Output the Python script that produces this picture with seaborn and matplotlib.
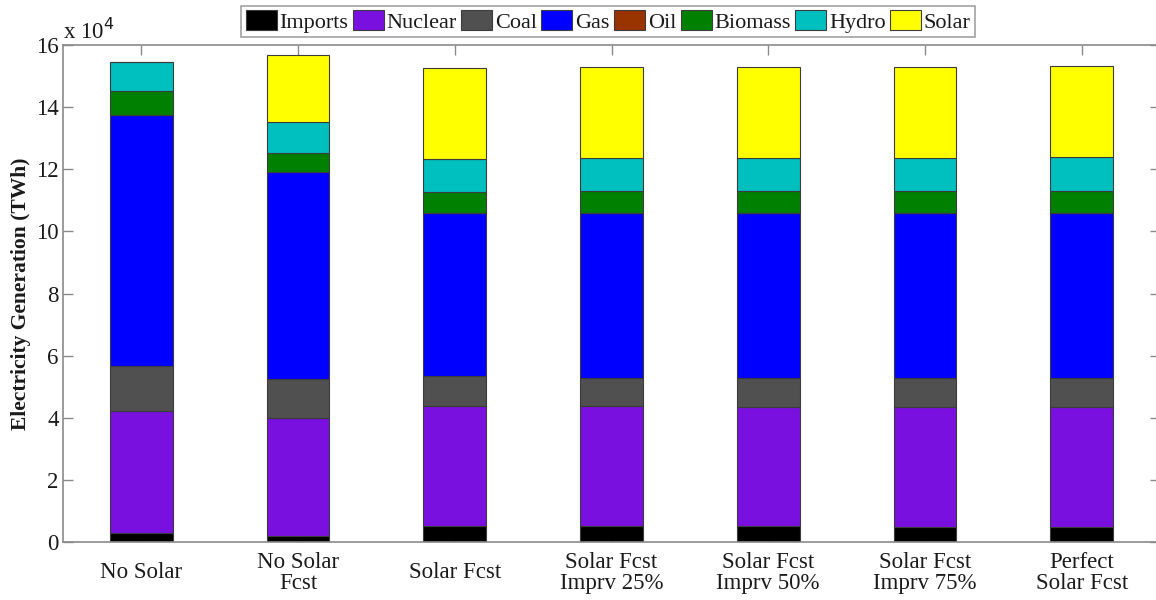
import matplotlib
matplotlib.use("Agg")
import matplotlib.pyplot as plt
from matplotlib.patches import Patch
from matplotlib.ticker import FuncFormatter, MultipleLocator
import numpy as np
import seaborn as sns

# Scenario names (x categories)
scenarios = ["No Solar", "No Solar\nFcst", "Solar Fcst", "Solar Fcst\nImprv 25%",
             "Solar Fcst\nImprv 50%", "Solar Fcst\nImprv 75%", "Perfect\nSolar Fcst"]

# Generation by source for each scenario (TWh)
imports = [2900, 1900, 5200, 5200, 5100, 4800, 4800]
nuclear = [39300, 38100, 38600, 38600, 38400, 38700, 38700]
coal = [14500, 12500, 9600, 9000, 9300, 9300, 9300]
gas = [80800, 66600, 52500, 53100, 53100, 53200, 53200]
oil = [0, 0, 0, 0, 0, 0, 0]
biomass = [7700, 6100, 6800, 7100, 7100, 7000, 7000]
hydro = [9300, 10000, 10600, 10600, 10600, 10600, 11000]
solar = [0, 21600, 29300, 29300, 29300, 29300, 29200]

sources = ["Imports", "Nuclear", "Coal", "Gas", "Oil", "Biomass", "Hydro", "Solar"]
series = [imports, nuclear, coal, gas, oil, biomass, hydro, solar]
colors = ["#000000", "#7a10e0", "#505050", "#0000ff", "#993300", "#008000", "#00bfbf", "#ffff00"]

sns.set_style("white")
plt.rcParams["font.family"] = ["Liberation Serif", "DejaVu Serif"]

fig = plt.figure(figsize=(11.56, 6.0), dpi=100)
ax = fig.add_axes([63 / 1156, 58 / 600, 1097 / 1156, 497 / 600])

bottom = np.zeros(len(scenarios))
for name, vals, col in zip(sources, series, colors):
    sns.barplot(x=scenarios, y=vals, bottom=bottom, color=col, width=0.4,
                edgecolor="#3c3c3c", linewidth=0.8, errorbar=None,
                saturation=1, ax=ax)
    bottom = bottom + np.asarray(vals, dtype=float)

ax.set_xlim(-0.5, 6.5)
ax.set_ylim(0, 160000)
ax.yaxis.set_major_locator(MultipleLocator(20000))
ax.yaxis.set_major_formatter(FuncFormatter(lambda v, p: f"{v / 1e4:g}"))

axis_gray = "#8a8a8a"
for sp in ax.spines.values():
    sp.set_visible(True)
    sp.set_color(axis_gray)
    sp.set_linewidth(1.2)

ax.tick_params(axis="both", which="major", direction="in", length=7.5, width=1,
               color=axis_gray, labelcolor="#1a1a1a", labelsize=16.5,
               top=True, right=True, bottom=True, left=True)
ax.tick_params(axis="y", pad=3)
ax.tick_params(axis="x", pad=22)
ax.set_xticks(range(len(scenarios)))
ax.set_xticklabels(scenarios, linespacing=1.0)
for lbl in ax.get_xticklabels():
    lbl.set_verticalalignment("center")

ax.set_xlabel("")
ax.set_ylabel("Electricity Generation (TWh)", fontsize=15.5, fontweight="bold",
              color="#1a1a1a", labelpad=4)

ax.text(0.0, 1.003, r"x 10$^4$", transform=ax.transAxes, fontsize=16.5,
        color="#1a1a1a", ha="left", va="bottom")

handles = [Patch(facecolor=c, edgecolor="#3c3c3c", linewidth=0.8) for c in colors]
leg = fig.legend(handles, sources, loc="center", bbox_to_anchor=(0.526, 0.964),
                 ncol=8, fontsize=16, frameon=True, fancybox=False,
                 handlelength=1.4, handleheight=0.95, handletextpad=0.12,
                 columnspacing=0.2, borderpad=0.2, borderaxespad=0)
leg.get_frame().set_edgecolor("#8a8a8a")
leg.get_frame().set_linewidth(1.2)
for t in leg.get_texts():
    t.set_color("#1a1a1a")

fig.savefig("out.png", dpi=100)
